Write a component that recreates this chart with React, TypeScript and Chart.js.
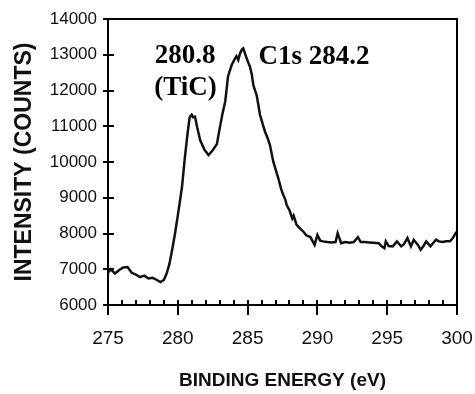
import React, { useEffect, useRef } from "react";
import { Chart, registerables } from "chart.js";

Chart.register(...registerables);

// Binding energy (eV) and intensity (counts)
const energies: number[] = [
  275.0, 275.2, 275.5, 275.8, 276.1, 276.4, 276.7, 277.0, 277.3, 277.6, 277.9, 278.2, 278.5, 278.75,
  279.0, 279.2, 279.4, 279.6, 279.8, 280.0, 280.3, 280.5, 280.7, 280.85, 281.0, 281.1, 281.23, 281.4,
  281.6, 281.9, 282.2, 282.5, 282.8, 283.0, 283.2, 283.4, 283.6, 283.86, 284.1, 284.2, 284.33, 284.46,
  284.6, 284.69, 284.8, 284.93, 285.05, 285.17, 285.3, 285.41, 285.55, 285.65, 285.89, 286.05, 286.25,
  286.45, 286.6, 286.84, 287.0, 287.2, 287.4, 287.56, 287.7, 287.8, 288.0, 288.2, 288.3, 288.5, 288.75,
  289.0, 289.2, 289.5, 289.8, 290.0, 290.2, 290.4, 290.7, 291.0, 291.3, 291.45, 291.7, 292.0, 292.3,
  292.6, 292.9, 293.1, 293.4, 293.7, 294.0, 294.4, 294.6, 294.8, 294.9, 295.1, 295.4, 295.7, 296.0,
  296.2, 296.45, 296.7, 296.9, 297.2, 297.4, 297.6, 297.8, 298.1, 298.5, 298.7, 299.0, 299.2, 299.5,
  299.7, 299.9, 300.0,
];
const counts: number[] = [
  6900, 7000, 6880, 6980, 7050, 7060, 6900, 6850, 6780, 6820, 6740, 6760, 6700, 6640,
  6700, 6880, 7150, 7550, 8000, 8500, 9300, 10100, 10800, 11250, 11320, 11250, 11267, 10950,
  10615, 10350, 10195, 10330, 10500, 10940, 11350, 11700, 12400, 12713, 12900, 12960, 12853, 13040,
  13150, 13180, 13050, 12900, 12780, 12665, 12450, 12153, 11980, 11874, 11314, 11100, 10847,
  10650, 10475, 10008, 9800, 9544, 9250, 9077, 8950, 8797, 8650, 8420, 8500, 8250, 8145,
  8050, 7950, 7900, 7680, 7960, 7800, 7780, 7760, 7750, 7760, 8010, 7730, 7760, 7740,
  7760, 7900, 7760, 7760, 7750, 7740, 7730, 7640, 7590, 7780, 7650, 7640, 7780, 7640,
  7700, 7870, 7640, 7820, 7680, 7544, 7650, 7780, 7640, 7830, 7780, 7760, 7780, 7780,
  7870, 8010, 8050,
];

// Axis ranges and tick steps
const xMin = 275;
const xMax = 300;
const xMajorStep = 5;
const xMinorStep = 1;
const yMin = 6000;
const yMax = 14000;
const yStep = 1000;

const xTitle = "BINDING ENERGY (eV)";
const yTitle = "INTENSITY (COUNTS)";

// Peak annotations (text, energy, intensity)
const annotationTexts: string[] = ["280.8", "(TiC)", "C1s 284.2"];
const annotationX: number[] = [280.52, 280.55, 289.76];
const annotationY: number[] = [12965, 12083, 12950];

const INK = "#000000";

const framePlugin = {
  id: "frameTicksLabels",
  afterDraw(chart: any) {
    const ctx = chart.ctx;
    const area = chart.chartArea;
    const xs = chart.scales.x;
    const ys = chart.scales.y;
    const L = Math.round(area.left);
    const R = Math.round(area.right);
    const T = Math.round(area.top);
    const B = Math.round(area.bottom);
    ctx.save();
    ctx.fillStyle = INK;
    ctx.fillRect(L - 1, T - 1, R - L + 2, 2);
    ctx.fillRect(L - 1, B - 1, R - L + 2, 2);
    ctx.fillRect(L - 1, T - 1, 2, B - T + 2);
    ctx.fillRect(R - 1, T - 1, 2, B - T + 2);
    for (let v = yMin; v <= yMax; v += yStep) {
      const py = Math.round(ys.getPixelForValue(v));
      ctx.fillRect(L - 5, py - 1, 11, 2);
    }
    for (let v = xMin; v <= xMax + 1e-9; v += xMinorStep) {
      const px = Math.round(xs.getPixelForValue(v));
      const major = Math.abs((v - xMin) % xMajorStep) < 1e-9;
      ctx.fillRect(px - 1, B - 5, 2, major ? 15 : 5);
    }
    ctx.font = "bold 27px 'Liberation Serif'";
    ctx.textAlign = "center";
    ctx.textBaseline = "middle";
    for (let i = 0; i < annotationTexts.length; i++) {
      ctx.fillText(annotationTexts[i], xs.getPixelForValue(annotationX[i]), ys.getPixelForValue(annotationY[i]));
    }
    ctx.restore();
  },
};

export default function App() {
  const canvasRef = useRef<HTMLCanvasElement | null>(null);
  useEffect(() => {
    const canvas = canvasRef.current;
    if (!canvas) return;
    const chart = new Chart(canvas, {
      type: "line",
      data: {
        datasets: [
          {
            data: energies.map((e, i) => ({ x: e, y: counts[i] })),
            borderColor: "#111111",
            borderWidth: 2.5,
            pointRadius: 0,
            tension: 0,
            fill: false,
          },
        ],
      },
      options: {
        animation: false,
        responsive: false,
        maintainAspectRatio: false,
        layout: { padding: { top: 19, right: 18, left: 0, bottom: 0 } },
        plugins: { legend: { display: false }, tooltip: { enabled: false } },
        scales: {
          x: {
            type: "linear",
            min: xMin,
            max: xMax,
            grid: { display: false, drawTicks: false },
            border: { display: true, color: INK, width: 2 },
            ticks: {
              stepSize: xMajorStep,
              color: "#111111",
              padding: 22,
              maxRotation: 0,
              font: { family: "'Liberation Sans'", size: 19 },
              callback: (v: any) => String(v),
            },
            title: {
              display: true,
              text: xTitle,
              color: "#111111",
              padding: { top: 0, bottom: 2 },
              font: { family: "'Liberation Sans'", size: 19, weight: "bold" },
            },
            afterFit: (scale: any) => {
              scale.height = 89;
              scale.paddingLeft = 0;
              scale.paddingRight = 0;
            },
          },
          y: {
            type: "linear",
            min: yMin,
            max: yMax,
            grid: { display: false, drawTicks: false },
            border: { display: true, color: INK, width: 2 },
            ticks: {
              stepSize: yStep,
              color: "#111111",
              padding: 11,
              font: { family: "'Liberation Sans'", size: 17 },
              callback: (v: any) => String(v),
            },
            title: {
              display: true,
              text: yTitle,
              color: "#111111",
              padding: { top: 11, bottom: 0 },
              font: { family: "'Liberation Sans'", size: 23, weight: "bold" },
            },
            afterFit: (scale: any) => {
              scale.width = 108;
              scale.paddingTop = 0;
              scale.paddingBottom = 0;
            },
          },
        },
      },
      plugins: [framePlugin],
    } as any);
    return () => chart.destroy();
  }, []);
  return (
    <div style={{ position: "absolute", left: 0, top: 0, width: 475, height: 394, background: "#fff" }}>
      <canvas ref={canvasRef} width={475} height={394} style={{ display: "block", width: 475, height: 394 }} />
    </div>
  );
}
